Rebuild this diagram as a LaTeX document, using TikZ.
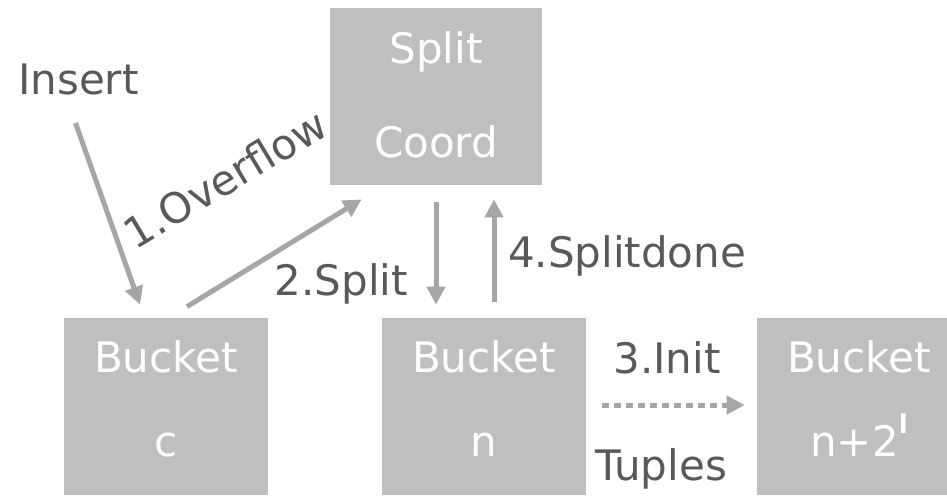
\documentclass[tikz,border=0pt]{standalone}
\usepackage{fontspec}
\setmainfont{DejaVu Sans}
\usepackage{xcolor}
\usepackage{tikz}
\usetikzlibrary{arrows.meta,calc,positioning}
\definecolor{boxgray}{HTML}{BFBFBF}
\definecolor{arrgray}{HTML}{A6A6A6}
\definecolor{txtgray}{HTML}{595959}
\newcommand{\supl}{\raisebox{11.5pt}{\fontsize{13}{15}\selectfont\bfseries l}}
\tikzset{
  bbox/.style={fill=boxgray, text=white, align=center, inner sep=0pt, minimum width=102pt, minimum height=88.5pt},
  plabel/.style={text=txtgray, inner sep=0pt, anchor=base},
  parrow/.style={-{Triangle[length=9pt, width=9pt]}, line width=2.5pt, draw=arrgray}
}

\begin{document}
\begin{tikzpicture}[
  x=0.5pt, y=-0.5pt,
  font=\fontsize{21}{25}\selectfont,
  pdotted/.style={parrow, dash pattern=on 3.5pt off 2.5pt}
]
  \useasboundingbox (0,0) rectangle (947,498);

  % --- boxes ---
  \node[bbox, minimum width=106pt, text depth=2pt] (split) at (436,96.5) {Split\\[22pt]Coord};
  \node[bbox, text depth=7.5pt] (bktc) at (166,406.5) {Bucket\\[17pt]c};
  \node[bbox, text depth=7.5pt] (bktn) at (484,406.5) {Bucket\\[17pt]n};
  \node[bbox, text depth=7.5pt] (bktl) at (859,406.5) {Bucket\\[17pt]n+2\supl};

  % --- labels ---
  \node[plabel] (insert) at (78.5,94) {Insert};
  \node[plabel, rotate=31] (ovf) at (233,192) {1.Overflow};
  \node[plabel] (spl) at (341.5,295) {2.Split};
  \node[plabel] (done) at (627,267) {4.Splitdone};
  \node[plabel] (init) at (667,373) {3.Init};
  \node[plabel] (tup) at (661,480) {Tuples};

  % --- arrows ---
  \draw[parrow] ($(insert.south)+(-3,28)$) -- ($(bktc.north)+(-26,-13)$);
  \draw[parrow] ($(bktc.north)+(21,-11)$) -- ($(split.south west)+(32,14)$);
  \draw[parrow] ($(split.south)+(0,17)$) -- ($(split.south |- bktn.north)+(0,-13)$);
  \draw[parrow] ($(split.south |- bktn.north)+(58,-16)$) -- ($(split.south)+(58,14)$);
  \draw[pdotted] ($(bktn.east)+(16,-1.5)$) -- ($(bktl.west)+(-12,-1.5)$);
\end{tikzpicture}
\end{document}
